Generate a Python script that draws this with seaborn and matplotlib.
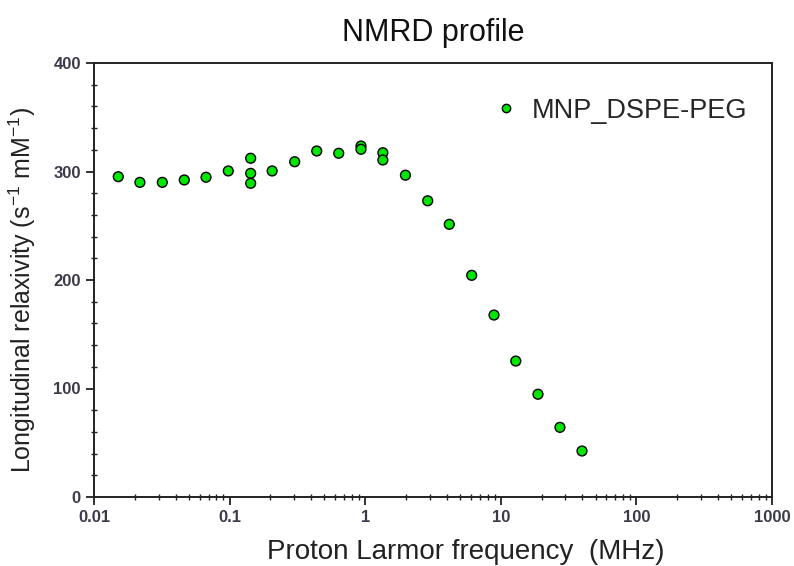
import numpy as np
import pandas as pd
from matplotlib import pyplot as plt
from matplotlib.ticker import LogLocator, MultipleLocator, FixedLocator, FixedFormatter, NullFormatter
import seaborn as sns

sns.set_style('ticks')
plt.rcParams['font.family'] = ['Liberation Sans', 'DejaVu Sans']

# NMRD data
freq_mhz = [0.0151, 0.0218, 0.0319, 0.0463, 0.0670, 0.0978,
            0.143, 0.143, 0.143, 0.206, 0.302, 0.439, 0.638,
            0.931, 0.931, 1.35, 1.35, 1.98, 2.89, 4.17, 6.10,
            8.91, 12.9, 18.8, 27.3, 39.7]
relaxivity = [295.2, 290.0, 290.0, 292.2, 294.7, 300.5,
              312.2, 298.3, 289.1, 300.5, 309.0, 318.9, 316.8,
              323.5, 320.5, 317.3, 310.6, 296.6, 273.0, 251.3, 204.3,
              167.7, 125.3, 94.7, 64.2, 42.4]
sample = 'MNP_DSPE-PEG'

xticks = [0.01, 0.1, 1, 10, 100, 1000]
xticklabels = ['0.01', '0.1', '1', '10', '100', '1000']
yticks = [0, 100, 200, 300, 400]

df = pd.DataFrame({'freq': freq_mhz, 'r1': relaxivity, 'sample': sample})

fig = plt.figure(figsize=(7.94, 5.66), dpi=100)
ax = fig.add_axes([94/794, 1-497/566, (772-94)/794, (497-63)/566])

sns.scatterplot(data=df, x='freq', y='r1', hue='sample', palette=['#00e600'],
                s=50, edgecolor='black', linewidth=1.0, marker='o', ax=ax, zorder=3)

ax.set_xscale('log')
ax.set_xlim(0.01, 1000)
ax.set_ylim(0, 400)
ax.xaxis.set_major_locator(FixedLocator(xticks))
ax.xaxis.set_major_formatter(FixedFormatter(xticklabels))
ax.xaxis.set_minor_locator(LogLocator(base=10, subs=np.arange(2, 10)))
ax.xaxis.set_minor_formatter(NullFormatter())
ax.yaxis.set_major_locator(FixedLocator(yticks))
ax.yaxis.set_minor_locator(MultipleLocator(20))

for side in ['left', 'right', 'top', 'bottom']:
    ax.spines[side].set_visible(True)
    ax.spines[side].set_color('#222222')
    ax.spines[side].set_linewidth(1.4)

ax.tick_params(which='major', direction='out', length=6, width=1.3, color='#222222',
               labelsize=12, labelcolor='#3a3a4a', top=False, right=False)
ax.tick_params(which='minor', direction='inout', length=4, width=1.0, color='#222222',
               top=False, right=False)
for lab in ax.get_xticklabels() + ax.get_yticklabels():
    lab.set_fontweight('bold')

ax.set_title('NMRD profile', fontsize=22, pad=16, color='#111111')
ax.set_xlabel('Proton Larmor frequency  (MHz)', fontsize=20, color='#222222')
ax.xaxis.set_label_coords(0.549, -0.097)
ax.set_ylabel(r'Longitudinal relaxivity (s$^{\mathregular{-1}}$ mM$^{\mathregular{-1}}$)',
              fontsize=18, color='#222222')
ax.yaxis.set_label_coords(-0.083, 0.477)

ax.legend(loc='upper right', bbox_to_anchor=(0.979, 0.945), frameon=False,
          fontsize=19.5, handlelength=1.0, handletextpad=0.45, markerscale=0.85,
          borderaxespad=0)

fig.savefig('out.png', dpi=100)
